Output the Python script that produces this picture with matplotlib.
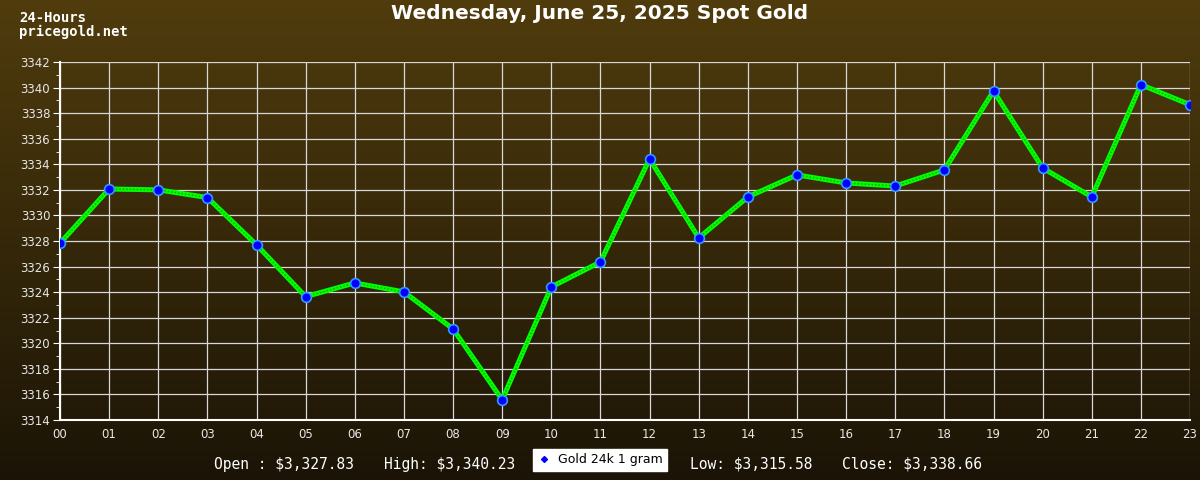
import numpy as np
import matplotlib
matplotlib.use("Agg")
import matplotlib.pyplot as plt
from matplotlib.ticker import MultipleLocator
from matplotlib.lines import Line2D

# ── data ─────────────────────────────────────────────────────────────────────
hours = ["00", "01", "02", "03", "04", "05", "06", "07", "08", "09", "10", "11",
         "12", "13", "14", "15", "16", "17", "18", "19", "20", "21", "22", "23"]
prices = [3327.83, 3332.07, 3332.00, 3331.40, 3327.70, 3323.65, 3324.72, 3324.02,
          3321.12, 3315.58, 3324.41, 3326.36, 3334.42, 3328.24, 3331.45, 3333.17,
          3332.54, 3332.30, 3333.56, 3339.73, 3333.71, 3331.45, 3340.23, 3338.66]
stats_left = ["Open : $3,327.83", "High: $3,340.23"]
stats_right = ["Low: $3,315.58", "Close: $3,338.66"]
series_name = "Gold 24k 1 gram"
title = "Wednesday, June 25, 2025 Spot Gold"

fig = plt.figure(figsize=(12, 4.8), dpi=100)

# background gradient
bg = fig.add_axes([0, 0, 1, 1], zorder=-10)
grad = np.linspace(0, 1, 256).reshape(-1, 1)
top_c = np.array([0x50, 0x3c, 0x0d]) / 255
bot_c = np.array([0x1b, 0x14, 0x06]) / 255
img = top_c[None, None, :] * (1 - grad[:, :, None]) + bot_c[None, None, :] * grad[:, :, None]
bg.imshow(img, aspect="auto", extent=[0, 1, 0, 1])
bg.axis("off")

ax = fig.add_axes([0.05, 0.125, 0.9417, 0.7458])
ax.set_facecolor("none")
x = np.arange(len(hours))

ax.plot(x, prices, color="#00ff00", lw=3.6, zorder=3, solid_capstyle="round")
ax.plot(x, prices, color="#00a000", lw=1.0, ls=(0, (1, 1.5)), zorder=4)
ax.plot(x, prices, ls="none", marker="o", ms=7, mfc="#0000ff", mec="#3399ff",
        mew=1.2, zorder=5)

ax.set_xlim(0, 23)
ax.set_ylim(3314, 3342)
ax.set_xticks(x)
ax.set_xticklabels(hours)
ax.yaxis.set_major_locator(MultipleLocator(2))
ax.yaxis.set_minor_locator(MultipleLocator(1))
ax.grid(True, which="major", color="#d8d8d8", lw=0.9)
for side in ("top", "right"):
    ax.spines[side].set_visible(False)
for side in ("left", "bottom"):
    ax.spines[side].set_color("white")
    ax.spines[side].set_linewidth(1.5)
ax.tick_params(axis="y", which="major", length=5, color="white", labelsize=8.5,
               labelcolor="#e8e8e8", pad=2)
ax.tick_params(axis="y", which="minor", length=3, color="white")
ax.tick_params(axis="x", length=0, labelsize=8.5, labelcolor="#e8e8e8", pad=6)

fig.text(0.5, 0.971, title, ha="center", va="center", fontsize=14.5,
         fontweight="bold", color="white")
fig.text(0.016, 0.978, "24-Hours\npricegold.net", ha="left", va="top",
         fontsize=10, family="DejaVu Sans Mono", fontweight="bold",
         color="white", linespacing=1.0)

# bottom stats
stat_kw = dict(fontsize=10.5, color="white", family="DejaVu Sans Mono", va="center")
fig.text(0.178, 0.033, stats_left[0], **stat_kw)
fig.text(0.320, 0.033, stats_left[1], **stat_kw)
fig.text(0.575, 0.033, stats_right[0], **stat_kw)
fig.text(0.702, 0.033, stats_right[1], **stat_kw)

handle = Line2D([], [], ls="none", marker="D", ms=3, color="#0000ff")
fig.legend([handle], [series_name], loc="center", bbox_to_anchor=(0.5, 0.042),
           frameon=True, fancybox=False, framealpha=1, edgecolor="white",
           facecolor="white", fontsize=9, handlelength=1, handletextpad=0.6,
           borderpad=0.35)

fig.savefig("out.png", dpi=100)
